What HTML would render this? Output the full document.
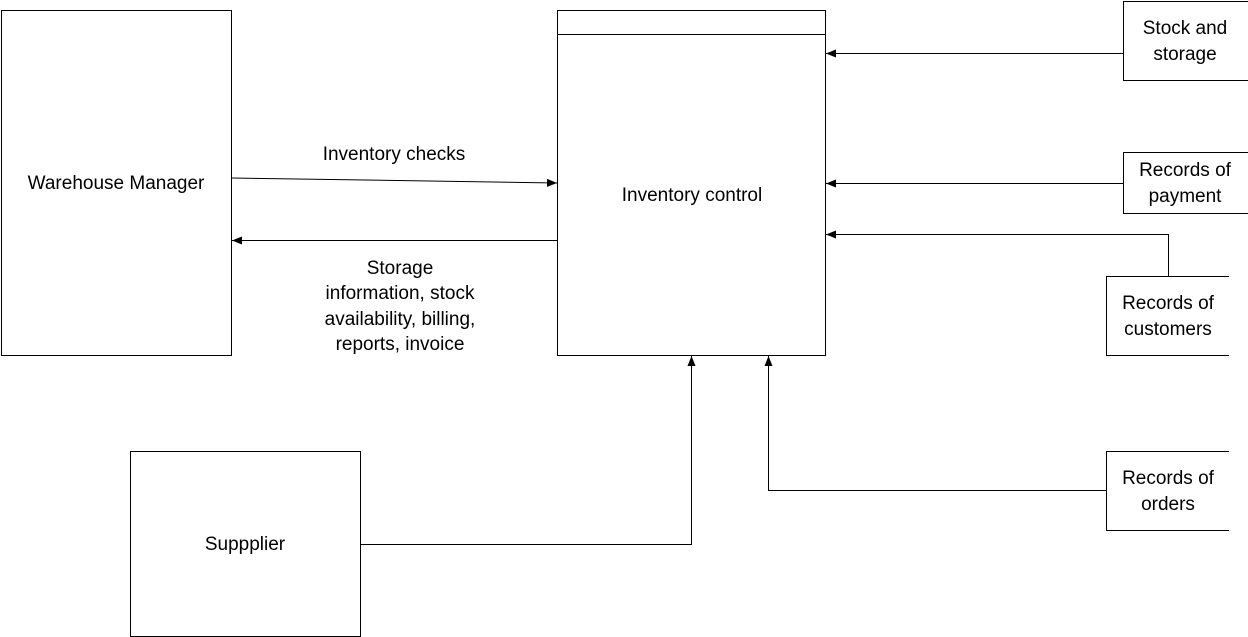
<!DOCTYPE html>
<html><head><style>
body{margin:0;background:#fff;}
svg{display:block;}
text{font-family:"Liberation Sans",sans-serif;font-size:19px;fill:#000;}
</style></head><body>
<svg width="1248" height="637" viewBox="0 0 1248 637" xmlns="http://www.w3.org/2000/svg">
<defs><marker id="a" markerWidth="10" markerHeight="8" refX="10" refY="4" orient="auto" markerUnits="userSpaceOnUse"><path d="M0,0 L10,4 L0,8z" fill="#000"/></marker></defs>
<g fill="none" stroke="#000" stroke-width="1">
<rect x="1.5" y="10.5" width="230" height="345"/>
<rect x="557.5" y="10.5" width="268" height="345"/>
<line x1="557.5" y1="34.5" x2="825.5" y2="34.5"/>
<rect x="130.5" y="451.5" width="230" height="185"/>
<path d="M1248,1.5 H1123.5 V80.5 H1248"/>
<path d="M1248,152.5 H1123.5 V213.5 H1248"/>
<path d="M1229,276.5 H1106.5 V355.5 H1229"/>
<path d="M1229,451.5 H1106.5 V530.5 H1229"/>
<line x1="231.5" y1="178" x2="557" y2="183" marker-end="url(#a)"/>
<line x1="557.5" y1="240.5" x2="232" y2="240.5" marker-end="url(#a)"/>
<line x1="1123" y1="53.5" x2="826" y2="53.5" marker-end="url(#a)"/>
<line x1="1123" y1="183.5" x2="826" y2="183.5" marker-end="url(#a)"/>
<path d="M1168.5,276 V234.5 H826" marker-end="url(#a)"/>
<path d="M360.5,544.5 H691.5 V356" marker-end="url(#a)"/>
<path d="M1106,490.5 H768.5 V356" marker-end="url(#a)"/>
</g>
<text x="116" y="189" text-anchor="middle">Warehouse Manager</text>
<text x="692" y="201" text-anchor="middle">Inventory control</text>
<text x="245" y="550" text-anchor="middle">Suppplier</text>
<text x="394" y="160" text-anchor="middle">Inventory checks</text>
<text text-anchor="middle"><tspan x="400" y="274">Storage</tspan><tspan x="400" y="299">information, stock</tspan><tspan x="400" y="325">availability, billing,</tspan><tspan x="400" y="350">reports, invoice</tspan></text>
<text text-anchor="middle"><tspan x="1185" y="34">Stock and</tspan><tspan x="1185" y="60">storage</tspan></text>
<text text-anchor="middle"><tspan x="1185" y="176">Records of</tspan><tspan x="1185" y="202">payment</tspan></text>
<text text-anchor="middle"><tspan x="1168" y="309">Records of</tspan><tspan x="1168" y="335">customers</tspan></text>
<text text-anchor="middle"><tspan x="1168" y="484">Records of</tspan><tspan x="1168" y="510">orders</tspan></text>
</svg>
</body></html>
